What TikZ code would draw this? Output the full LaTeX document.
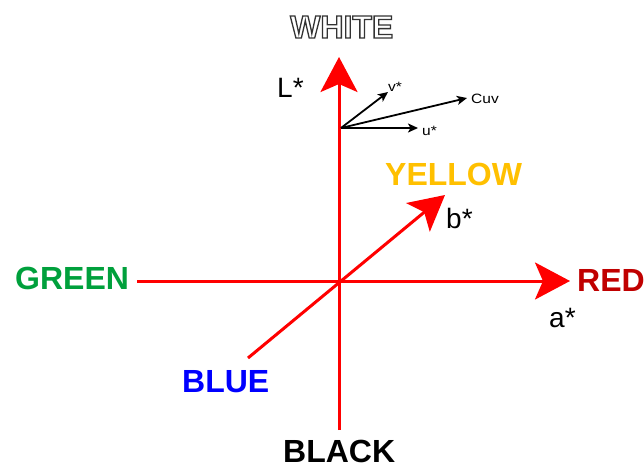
\documentclass[tikz,border=0pt]{standalone}
\usepackage{fontspec}
\setmainfont{Liberation Sans}
\usepackage{graphicx}
\usetikzlibrary{arrows.meta}
\definecolor{cgreen}{RGB}{0,160,60}
\definecolor{cred}{RGB}{192,0,0}
\definecolor{cyellow}{RGB}{255,192,0}
\definecolor{cblue}{RGB}{0,0,255}
\definecolor{axisred}{RGB}{255,0,0}
\newcommand{\outlinetext}[1]{\special{pdf:literal direct 2 Tr 1.3 w 0.2 G 1 g}#1\special{pdf:literal direct 0 Tr 0 G 0 g}}
\newcommand{\widetext}[1]{\scalebox{1.15}[1]{#1}}
\begin{document}
\begin{tikzpicture}[x=1pt,y=-1pt,
  axis/.style={axisred, line width=3pt},
  bigtip/.style={-{Stealth[length=35pt,width=37pt,inset=8pt]}},
  smallarrow/.style={black, line width=1.8pt, -{Stealth[length=10pt,width=9pt,inset=2.5pt]}},
  colorlab/.style={font=\fontsize{32}{36}\selectfont\bfseries, inner sep=0pt, anchor=base west},
  axislab/.style={font=\fontsize{28}{32}\selectfont, inner sep=0pt, anchor=base west},
  smalllab/.style={font=\fontsize{13.5}{15}\selectfont, inner sep=0pt, anchor=base west}]
\useasboundingbox (0,0) rectangle (644,469);
\fill[white] (0,0) rectangle (644,469);
% axis coordinates
\coordinate (top) at (339,57);
\coordinate (bot) at (339,430);
\coordinate (left) at (137,281);
\coordinate (right) at (570,281);
\coordinate (dl) at (248,358);
\coordinate (dr) at (445,195);
% axes
\draw[axis,bigtip] (bot) -- (top);
\draw[axis,bigtip] (left) -- (right);
\draw[axis,bigtip] (dl) -- (dr);
% small vectors
\coordinate (o2) at (341,128);
\coordinate (vt) at (388,92);
\coordinate (ct) at (467,98);
\coordinate (ut) at (418,128);
\draw[smallarrow] (o2) -- (vt);
\draw[smallarrow] (o2) -- (ct);
\draw[smallarrow] (o2) -- (ut);
% labels
\node[colorlab] (white) at (290,38) {\outlinetext{WHITE}};
\node[axislab] (L) at (277,97) {L*};
\node[smalllab] (v) at (388,91) {\widetext{v*}};
\node[smalllab] (cuv) at (471,103) {\widetext{Cuv}};
\node[smalllab] (u) at (422,135) {\widetext{u*}};
\node[colorlab,text=cyellow] (yellow) at (385,185) {YELLOW};
\node[axislab] (b) at (446,228) {b*};
\node[colorlab,text=cgreen] (green) at (15,289) {GREEN};
\node[colorlab,text=cred] (red) at (577,291) {RED};
\node[axislab] (a) at (549,327) {a*};
\node[colorlab,text=cblue] (blue) at (182,392) {BLUE};
\node[colorlab,text=black] (black) at (283,462) {BLACK};
\end{tikzpicture}
\end{document}
